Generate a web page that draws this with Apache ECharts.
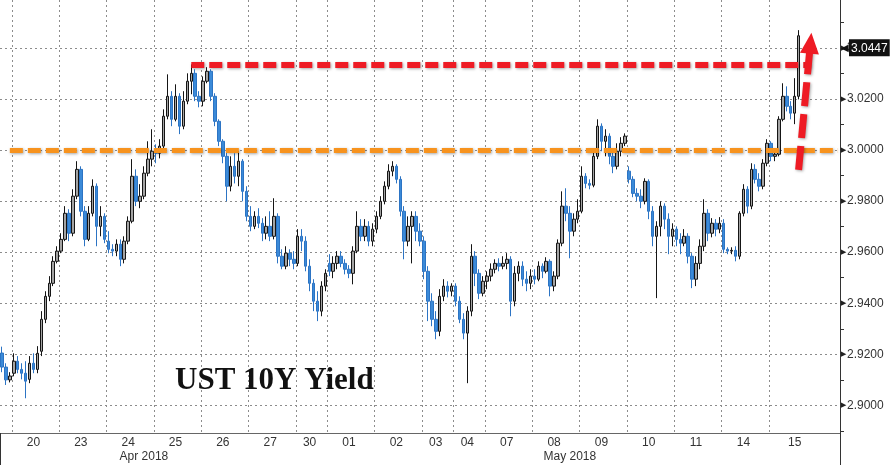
<!DOCTYPE html>
<html>
<head>
<meta charset="utf-8">
<script src="https://cdn.jsdelivr.net/npm/echarts@6/dist/echarts.min.js"></script>
<style>
  html, body { margin: 0; padding: 0; background: #fff; }
  #chart { width: 890px; height: 465px; }
</style>
</head>
<body>
<div id="chart"></div>
<script>
// ---------------- DATA ----------------
const days = ['19','20','23','24','25','26','27','30','01','02','03','04','07','08','09','10','11','14','15'];
const barsPerDay = [3,12,12,12,12,12,12,8,12,12,8,8,12,12,12,12,12,12,18];
const months = ['Apr 2018', 'May 2018'];
const chartTitle = 'UST 10Y Yield';
const yTickValues = [2.89,2.90,2.91,2.92,2.93,2.94,2.95,2.96,2.97,2.98,2.99,3.00,3.01,3.02,3.03,3.04,3.05];
const yLabelValues = [2.90,2.92,2.94,2.96,2.98,3.00,3.02,3.04];
const supportLevel = 3.0000;   // orange dashed level
const priorHigh = 3.0332;      // red dashed level

// [open, close, low, high]
const ohlc19 = [[2.9205,2.9150,2.9130,2.9230],[2.9150,2.9100,2.9080,2.9165],[2.9100,2.9115,2.9090,2.9130]];
const ohlc20 = [
[2.9126,2.9173,2.9114,2.9204],[2.9173,2.9141,2.9126,2.9193],[2.9141,2.9126,2.9102,2.9165],
[2.9126,2.9095,2.9028,2.9173],[2.9102,2.9165,2.9087,2.9193],[2.9165,2.9141,2.9126,2.9204],
[2.9141,2.9204,2.9126,2.9232],[2.9212,2.9337,2.9193,2.9369],[2.9337,2.9427,2.9322,2.9447],
[2.9427,2.9478,2.9408,2.9506],[2.9478,2.9564,2.9467,2.9584],[2.9564,2.9604,2.9556,2.9623]];
const ohlc23 = [
[2.9604,2.9650,2.9596,2.9674],[2.9650,2.9752,2.9643,2.9780],[2.9752,2.9674,2.9643,2.9768],
[2.9674,2.9819,2.9662,2.9846],[2.9819,2.9924,2.9807,2.9956],[2.9924,2.9760,2.9740,2.9936],
[2.9760,2.9650,2.9623,2.9780],[2.9650,2.9752,2.9643,2.9780],[2.9752,2.9858,2.9740,2.9885],
[2.9858,2.9701,2.9623,2.9869],[2.9701,2.9740,2.9662,2.9780],[2.9740,2.9650,2.9635,2.9752]];
const ohlc24 = [
[2.9643,2.9611,2.9596,2.9682],[2.9611,2.9604,2.9584,2.9631],[2.9604,2.9631,2.9584,2.9650],
[2.9631,2.9572,2.9545,2.9650],[2.9572,2.9643,2.9556,2.9662],[2.9643,2.9721,2.9631,2.9740],
[2.9721,2.9897,2.9713,2.9964],[2.9897,2.9799,2.9780,2.9924],[2.9799,2.9819,2.9772,2.9866],
[2.9819,2.9909,2.9807,2.9936],[2.9909,2.9964,2.9897,3.0034],[2.9964,2.9995,2.9936,3.0081]];
const ohlc25 = [
[2.9995,2.9987,2.9948,3.0022],[2.9987,3.0015,2.9967,3.0042],[3.0015,3.0132,2.9995,3.0159],
[3.0132,3.0210,3.0120,3.0296],[3.0210,3.0120,3.0093,3.0230],[3.0120,3.0210,3.0112,3.0257],
[3.0210,3.0093,3.0062,3.0222],[3.0093,3.0191,3.0081,3.0230],[3.0191,3.0269,3.0179,3.0300],
[3.0269,3.0300,3.0218,3.0335],[3.0300,3.0210,3.0191,3.0316],[3.0210,3.0191,3.0167,3.0230]];
const ohlc26 = [
[3.0191,3.0269,3.0171,3.0288],[3.0269,3.0308,3.0261,3.0324],[3.0308,3.0210,3.0191,3.0316],
[3.0210,3.0112,3.0093,3.0222],[3.0112,3.0034,3.0015,3.0120],[3.0034,2.9975,2.9948,3.0042],
[2.9975,2.9858,2.9799,2.9995],[2.9858,2.9936,2.9838,2.9975],[2.9936,2.9897,2.9869,2.9987],
[2.9897,2.9956,2.9858,2.9995],[2.9956,2.9838,2.9799,2.9964],[2.9838,2.9740,2.9721,2.9858]];
const ohlc27 = [
[2.9740,2.9701,2.9682,2.9780],[2.9701,2.9740,2.9690,2.9760],[2.9740,2.9713,2.9694,2.9772],
[2.9713,2.9674,2.9643,2.9733],[2.9674,2.9701,2.9650,2.9740],[2.9701,2.9662,2.9643,2.9760],
[2.9662,2.9740,2.9650,2.9811],[2.9740,2.9584,2.9556,2.9752],[2.9584,2.9545,2.9533,2.9611],
[2.9545,2.9596,2.9533,2.9623],[2.9596,2.9572,2.9545,2.9611],[2.9572,2.9556,2.9533,2.9604]];
const ohlc30 = [
[2.9556,2.9662,2.9545,2.9690],[2.9662,2.9643,2.9604,2.9690],[2.9643,2.9545,2.9525,2.9662],
[2.9545,2.9478,2.9447,2.9572],[2.9478,2.9408,2.9369,2.9494],[2.9408,2.9369,2.9330,2.9447],
[2.9369,2.9467,2.9349,2.9486],[2.9467,2.9517,2.9447,2.9533]];
const ohlc01 = [
[2.9556,2.9525,2.9506,2.9592],[2.9525,2.9556,2.9498,2.9584],[2.9556,2.9584,2.9533,2.9604],
[2.9584,2.9556,2.9541,2.9604],[2.9556,2.9533,2.9513,2.9572],[2.9533,2.9517,2.9498,2.9549],
[2.9517,2.9604,2.9474,2.9623],[2.9604,2.9701,2.9596,2.9760],[2.9701,2.9662,2.9643,2.9729],
[2.9662,2.9701,2.9643,2.9729],[2.9701,2.9643,2.9623,2.9721],[2.9643,2.9690,2.9623,2.9713]];
const ohlc02 = [
[2.9690,2.9740,2.9674,2.9760],[2.9740,2.9799,2.9729,2.9819],[2.9799,2.9858,2.9787,2.9877],
[2.9858,2.9917,2.9846,2.9944],[2.9917,2.9936,2.9897,2.9956],[2.9936,2.9885,2.9869,2.9944],
[2.9885,2.9760,2.9740,2.9897],[2.9760,2.9643,2.9572,2.9780],[2.9643,2.9701,2.9623,2.9740],
[2.9701,2.9740,2.9556,2.9760],[2.9740,2.9682,2.9643,2.9760],[2.9682,2.9643,2.9623,2.9713]];
const ohlc03 = [
[2.9643,2.9525,2.9494,2.9662],[2.9525,2.9408,2.9330,2.9545],[2.9408,2.9337,2.9310,2.9439],
[2.9337,2.9290,2.9259,2.9369],[2.9290,2.9427,2.9271,2.9455],[2.9427,2.9467,2.9408,2.9494],
[2.9467,2.9447,2.9423,2.9486],[2.9447,2.9467,2.9427,2.9478]];
const ohlc04 = [
[2.9467,2.9408,2.9388,2.9478],[2.9408,2.9337,2.9322,2.9427],[2.9337,2.9283,2.9259,2.9361],
[2.9283,2.9369,2.9087,2.9388],[2.9369,2.9584,2.9349,2.9631],[2.9584,2.9517,2.9467,2.9604],
[2.9517,2.9439,2.9416,2.9533],[2.9439,2.9486,2.9427,2.9506]];
const ohlc07 = [
[2.9486,2.9506,2.9455,2.9525],[2.9506,2.9533,2.9486,2.9556],[2.9533,2.9556,2.9517,2.9572],
[2.9556,2.9545,2.9525,2.9576],[2.9545,2.9556,2.9533,2.9584],[2.9556,2.9572,2.9533,2.9596],
[2.9572,2.9408,2.9349,2.9584],[2.9408,2.9517,2.9388,2.9545],[2.9517,2.9545,2.9486,2.9564],
[2.9545,2.9494,2.9467,2.9564],[2.9494,2.9478,2.9447,2.9525],[2.9478,2.9506,2.9455,2.9533]];
const ohlc08 = [
[2.9506,2.9494,2.9474,2.9533],[2.9494,2.9545,2.9486,2.9564],[2.9545,2.9525,2.9498,2.9556],
[2.9525,2.9564,2.9517,2.9580],[2.9564,2.9467,2.9427,2.9572],[2.9467,2.9506,2.9447,2.9525],
[2.9506,2.9635,2.9494,2.9650],[2.9635,2.9780,2.9623,2.9838],[2.9780,2.9752,2.9721,2.9850],
[2.9752,2.9682,2.9576,2.9780],[2.9682,2.9729,2.9662,2.9752],[2.9729,2.9760,2.9713,2.9807]];
const ohlc09 = [
[2.9760,2.9897,2.9752,2.9936],[2.9897,2.9869,2.9850,2.9909],[2.9869,2.9862,2.9846,2.9885],
[2.9862,2.9975,2.9854,2.9995],[2.9975,3.0093,2.9964,3.0120],[3.0093,3.0034,2.9995,3.0104],
[3.0034,3.0054,2.9975,3.0081],[3.0054,2.9975,2.9944,3.0065],[2.9975,2.9936,2.9909,2.9995],
[2.9936,2.9995,2.9924,3.0026],[2.9995,3.0026,2.9975,3.0050],[3.0026,3.0054,3.0015,3.0065]];
const ohlc10 = [
[2.9917,2.9885,2.9869,2.9936],[2.9885,2.9830,2.9815,2.9897],[2.9830,2.9819,2.9799,2.9850],
[2.9819,2.9799,2.9772,2.9846],[2.9799,2.9877,2.9787,2.9889],[2.9877,2.9760,2.9729,2.9885],
[2.9760,2.9662,2.9623,2.9780],[2.9662,2.9701,2.9420,2.9721],[2.9701,2.9780,2.9662,2.9799],
[2.9780,2.9729,2.9690,2.9791],[2.9729,2.9662,2.9592,2.9752],[2.9662,2.9690,2.9623,2.9713]];
const ohlc11 = [
[2.9690,2.9650,2.9623,2.9701],[2.9650,2.9635,2.9592,2.9674],[2.9635,2.9662,2.9623,2.9690],
[2.9662,2.9584,2.9556,2.9674],[2.9584,2.9494,2.9459,2.9596],[2.9494,2.9556,2.9467,2.9584],
[2.9556,2.9623,2.9533,2.9650],[2.9623,2.9752,2.9604,2.9807],[2.9752,2.9674,2.9643,2.9768],
[2.9674,2.9713,2.9658,2.9733],[2.9713,2.9690,2.9662,2.9729],[2.9690,2.9713,2.9674,2.9737]];
const ohlc14 = [
[2.9713,2.9611,2.9596,2.9729],[2.9611,2.9604,2.9592,2.9619],[2.9604,2.9607,2.9592,2.9619],
[2.9607,2.9584,2.9564,2.9623],[2.9584,2.9752,2.9572,2.9760],[2.9752,2.9846,2.9740,2.9866],
[2.9846,2.9780,2.9752,2.9858],[2.9780,2.9924,2.9768,2.9948],[2.9924,2.9885,2.9869,2.9944],
[2.9885,2.9858,2.9838,2.9909],[2.9858,2.9948,2.9846,2.9964],[2.9948,3.0026,2.9936,3.0042]];
const ohlc15 = [
[3.0026,2.9975,2.9956,3.0034],[2.9975,2.9983,2.9956,2.9995],[2.9983,3.0120,2.9975,3.0132],
[3.0120,3.0210,3.0112,3.0261],[3.0210,3.0171,3.0151,3.0249],[3.0171,3.0144,3.0120,3.0191],
[3.0144,3.0210,3.0101,3.0281],[3.0210,3.0447,3.0198,3.0469]];

// ---------------- BUILD ----------------
const ohlc = [].concat(ohlc19, ohlc20, ohlc23, ohlc24, ohlc25, ohlc26, ohlc27, ohlc30,
  ohlc01, ohlc02, ohlc03, ohlc04, ohlc07, ohlc08, ohlc09, ohlc10, ohlc11, ohlc14, ohlc15);

const cats = [];
const dayStarts = [];
const labelAt = {};
let n = 0;
days.forEach((d, k) => {
  dayStarts.push(n);
  for (let j = 0; j < barsPerDay[k]; j++) cats.push(d + '_' + j);
  if (k > 0) {
    const off = barsPerDay[k] > 12 ? 6 : Math.floor((barsPerDay[k] - 1) / 2);
    labelAt[n + off] = d;
  }
  n += barsPerDay[k];
});
const startSet = new Set(dayStarts.slice(1));
const monthSplit = dayStarts[days.indexOf('01')];
const monthLabelAt = { 36: months[0], 144: months[1] };
const lastClose = ohlc[ohlc.length - 1][1];

const FONT = 'Liberation Sans';
const shadow = { shadowColor: 'rgba(0,0,0,0.35)', shadowBlur: 3, shadowOffsetX: 1, shadowOffsetY: 1 };

const chart = echarts.init(document.getElementById('chart'), null, { renderer: 'canvas' });
chart.setOption({
  backgroundColor: '#ffffff',
  animation: false,
  title: {
    text: chartTitle, left: 175, top: 365, padding: 0,
    textStyle: { fontFamily: 'Liberation Serif', fontWeight: 'bold', fontSize: 31, color: '#111' }
  },
  grid: { left: 0, right: 50, top: 0, bottom: 32, containLabel: false, outerBoundsMode: 'none' },
  xAxis: [{
    type: 'category', data: cats, boundaryGap: true,
    axisLine: { show: true, lineStyle: { color: '#666', width: 1 } },
    axisTick: { show: false },
    axisLabel: {
      interval: (i) => labelAt[i] !== undefined,
      formatter: (v, i) => labelAt[i] || '',
      margin: 4, color: '#333', fontSize: 12, fontFamily: FONT
    },
    splitLine: {
      show: true, interval: (i) => startSet.has(i),
      lineStyle: { color: '#8c8c8c', width: 1, type: [2, 3] }
    }
  }, {
    type: 'category', data: cats, boundaryGap: true, position: 'bottom', offset: 0,
    axisLine: { show: false },
    axisTick: { show: true, interval: (i) => i === monthSplit, length: 32, lineStyle: { color: '#333', width: 1 } },
    axisLabel: {
      interval: (i) => monthLabelAt[i] !== undefined,
      formatter: (v, i) => monthLabelAt[i] || '',
      margin: 18, color: '#333', fontSize: 12, fontFamily: FONT
    },
    splitLine: { show: false }
  }],
  yAxis: {
    type: 'value', position: 'right', min: 2.8892, max: 3.0587,
    axisLine: { show: true, lineStyle: { color: '#333', width: 1 } },
    axisTick: { show: true, customValues: yTickValues, length: 4, lineStyle: { color: '#333' } },
    axisLabel: {
      customValues: yLabelValues, margin: 1,
      formatter: (v) => '{t|\u25B6}' + v.toFixed(4),
      color: '#333', fontSize: 12, fontFamily: FONT,
      rich: { t: { fontSize: 7, color: '#222', padding: [0, 1, 0, 0] } }
    },
    splitLine: { show: false }
  },
  series: [{
    type: 'candlestick',
    name: 'UST 10Y',
    data: ohlc,
    barWidth: 3,
    z: 2,
    itemStyle: {
      color: '#a4a4a4', borderColor: '#151515',
      color0: '#3b8ad8', borderColor0: '#2c74c4', borderWidth: 1
    },
    markLine: {
      silent: true, z: 1, symbol: 'none', animation: false,
      label: { show: false },
      lineStyle: { color: '#8c8c8c', width: 1, type: [2, 3] },
      data: yLabelValues.map(v => ({ yAxis: v }))
    }
  }, {
    type: 'line',
    name: 'annotations',
    data: [],
    markLine: {
      silent: true, z: 6, symbol: 'none', animation: false,
      label: { show: false },
      data: [
        [
          { coord: [cats[2], supportLevel], lineStyle: Object.assign({ color: '#F7931E', width: 5, type: [13, 5] }, shadow) },
          { coord: [cats[212], supportLevel] }
        ],
        [
          { coord: [cats[48], priorHigh], lineStyle: Object.assign({ color: '#EE1B24', width: 6, type: [13, 5] }, shadow) },
          { coord: [cats[205], priorHigh] }
        ],
        [
          { coord: [cats[202], 2.9922], symbol: 'none', lineStyle: Object.assign({ color: '#EE1B24', width: 7, type: [24, 8] }, shadow) },
          { coord: [cats[205], 3.0418], symbol: 'triangle', symbolSize: [19, 21] }
        ],
        {
          yAxis: lastClose, symbol: 'none',
          lineStyle: { color: 'rgba(0,0,0,0)', width: 1, type: 'solid' },
          label: {
            show: true, position: 'end', distance: 1,
            formatter: '{a|\u25C0}{b|' + lastClose.toFixed(4) + '}',
            rich: {
              a: { color: '#111', fontSize: 10 },
              b: { backgroundColor: '#111', color: '#fff', fontSize: 12, fontFamily: FONT, padding: [3, 2, 2, 2] }
            }
          }
        }
      ]
    }
  }]
});
</script>
</body>
</html>
